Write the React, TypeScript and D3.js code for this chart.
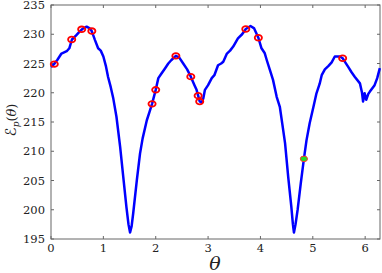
import React from 'react'
import * as d3 from 'd3'

// curve samples (theta, energy)
const thetaVals = [
  0.0, 0.06, 0.12, 0.2, 0.3, 0.35, 0.4, 0.48, 0.55, 0.6, 0.68, 0.74, 0.78, 0.84, 0.9, 0.95, 1.0, 1.05, 1.09,
  1.14, 1.19, 1.25, 1.32, 1.38, 1.44, 1.48, 1.51, 1.54, 1.57, 1.64, 1.7, 1.75, 1.83, 1.88, 1.93, 2.0, 2.05,
  2.11, 2.18, 2.24, 2.3, 2.385, 2.45, 2.525, 2.6, 2.67, 2.74, 2.78, 2.81, 2.84, 2.88, 2.91, 2.94, 3.0, 3.07,
  3.12, 3.19, 3.25, 3.29, 3.36, 3.42, 3.48, 3.57, 3.65, 3.72, 3.81, 3.88, 3.93, 3.96, 4.02, 4.08, 4.12, 4.18,
  4.24, 4.31, 4.37, 4.42, 4.47, 4.53, 4.59, 4.62, 4.64, 4.67, 4.71, 4.77, 4.83, 4.88, 4.94, 5.02, 5.07, 5.13,
  5.17, 5.23, 5.3, 5.36, 5.42, 5.515, 5.57, 5.62, 5.67, 5.74, 5.8, 5.9, 5.94, 5.96, 5.99, 6.02, 6.06, 6.09,
  6.18, 6.23, 6.28,
]
const energyVals = [
  224.4, 224.9, 225.6, 226.7, 227.1, 227.6, 229.1, 229.8, 230.5, 230.9, 231.3, 231.0, 230.5, 229.0, 227.6,
  227.2, 226.2, 224.5, 222.7, 221.0, 219.0, 215.9, 210.8, 205.6, 200.5, 197.5, 196.1, 197.2, 199.4, 205.1,
  209.6, 212.2, 215.3, 216.7, 218.1, 220.5, 222.5, 223.3, 224.2, 225.0, 225.6, 226.3, 226.0, 225.0, 224.0,
  222.75, 221.3, 220.5, 219.5, 218.5, 218.3, 219.1, 220.5, 221.3, 222.5, 223.0, 224.7, 225.0, 225.3, 226.7,
  227.2, 227.9, 229.3, 230.0, 230.9, 231.4, 231.0, 230.0, 229.4, 227.6, 226.8, 225.6, 223.9, 222.2, 219.3,
  217.6, 214.5, 211.4, 205.6, 200.5, 197.5, 196.1, 197.5, 200.0, 204.5, 208.7, 211.9, 214.8, 217.9, 219.9,
  221.5, 223.0, 224.0, 224.6, 225.2, 226.2, 226.2, 225.9, 225.2, 224.5, 223.5, 222.75, 221.6, 220.0, 218.5,
  219.9, 218.8, 219.8, 220.2, 221.3, 222.5, 224.2,
]

// red circle markers
const markTheta = [0.063, 0.395, 0.586, 0.78, 1.93, 2.0, 2.385, 2.67, 2.81, 2.84, 3.72, 3.96, 5.57]
const markEnergy = [224.9, 229.1, 230.85, 230.55, 218.1, 220.5, 226.3, 222.75, 219.5, 218.5, 230.9, 229.4, 225.9]
// green marker
const greenTheta = [4.83]
const greenEnergy = [208.7]

const xTicks = [0, 1, 2, 3, 4, 5, 6]
const yTicks = [195, 200, 205, 210, 215, 220, 225, 230, 235]

const W = 382
const H = 273
const left = 51
const right = 380
const top = 5
const bottom = 239

const App = () => {
  const x = d3.scaleLinear().domain([0, 2 * Math.PI]).range([left, right])
  const y = d3.scaleLinear().domain([195, 235]).range([bottom, top])
  const pts = thetaVals.map((t, i) => [t, energyVals[i]] as [number, number])
  const line = d3
    .line<[number, number]>()
    .x((d) => x(d[0]))
    .y((d) => y(d[1]))
  const axisColor = '#666'
  const font = 'DejaVu Serif'
  const tl = 3

  return (
    <svg width={W} height={H} style={{ position: 'absolute', left: 0, top: 0, background: '#fff' }}>
      <rect x={left} y={top} width={right - left} height={bottom - top} fill="none" stroke={axisColor} strokeWidth={1} />
      {xTicks.map((t) => (
        <g key={'x' + t}>
          <line x1={x(t)} x2={x(t)} y1={bottom} y2={bottom - tl} stroke={axisColor} />
          <line x1={x(t)} x2={x(t)} y1={top} y2={top + tl} stroke={axisColor} />
          <text x={x(t)} y={252} textAnchor="middle" fontFamily={font} fontSize={11.5} fill="#222">
            {t}
          </text>
        </g>
      ))}
      {yTicks.map((t) => (
        <g key={'y' + t}>
          <line x1={left} x2={left + tl} y1={y(t)} y2={y(t)} stroke={axisColor} />
          <line x1={right} x2={right - tl} y1={y(t)} y2={y(t)} stroke={axisColor} />
          <text x={45} y={y(t) + 4.2} textAnchor="end" fontFamily={font} fontSize={11.5} fill="#222">
            {t}
          </text>
        </g>
      ))}
      <path d={line(pts) ?? ''} fill="none" stroke="#0000ff" strokeWidth={2.5} strokeLinejoin="round" />
      {markTheta.map((t, i) => (
        <ellipse key={'m' + i} cx={x(t)} cy={y(markEnergy[i])} rx={3.6} ry={2.8} fill="none" stroke="#ff0000" strokeWidth={1.8} />
      ))}
      {greenTheta.map((t, i) => (
        <ellipse key={'g' + i} cx={x(t)} cy={y(greenEnergy[i])} rx={3.6} ry={2.8} fill="#22dd22" stroke="#ff3333" strokeWidth={1} />
      ))}
      <text transform="translate(16,120) rotate(-90)" textAnchor="middle" fontFamily="DejaVu Sans" fontSize={13} fill="#222">
        <tspan fontSize={15}>ℰ</tspan>
        <tspan fontSize={9} dy={3} fontStyle="italic" fontFamily={font}>p</tspan>
        <tspan dy={-3} fontFamily={font}>(</tspan>
        <tspan fontStyle="italic" fontFamily={font}>θ</tspan>
        <tspan fontFamily={font}>)</tspan>
      </text>
      <text x={215} y={270} textAnchor="middle" fontFamily={font} fontSize={19} fontStyle="italic" fill="#222">
        θ
      </text>
    </svg>
  )
}

export default App
